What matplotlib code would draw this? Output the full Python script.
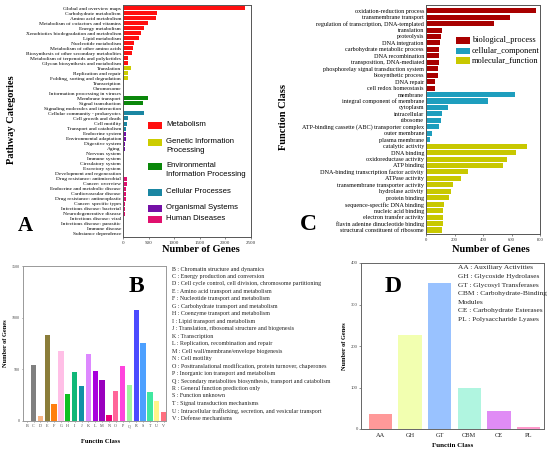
import matplotlib
matplotlib.use("Agg")
import matplotlib.pyplot as plt
from matplotlib.patches import Rectangle

SERIF = "Liberation Serif"
SANS = "Liberation Sans"
plt.rcParams["font.family"] = SERIF

# ---------------- Panel A data (KEGG) ----------------
a_categories = [
    "Global and overview maps", "Carbohydrate metabolism", "Amino acid metabolism",
    "Metabolism of cofactors and vitamins", "Energy metabolism",
    "Xenobiotics biodegradation and metabolism", "Lipid metabolism", "Nucleotide metabolism",
    "Metabolism of other amino acids", "Biosynthesis of other secondary metabolites",
    "Metabolism of terpenoids and polyketides", "Glycan biosynthesis and metabolism",
    "Translation", "Replication and repair", "Folding, sorting and degradation",
    "Transcription", "Chromosome", "Information processing in viruses",
    "Membrane transport", "Signal transduction", "Signaling molecules and interaction",
    "Cellular community - prokaryotes", "Cell growth and death", "Cell motility",
    "Transport and catabolism",
    "Endocrine system", "Environmental adaptation", "Digestive system", "Aging",
    "Nervous system", "Immune system", "Circulatory system", "Excretory system",
    "Development and regeneration",
    "Drug resistance: antimicrobial", "Cancer: overview", "Endocrine and metabolic disease",
    "Cardiovascular disease", "Drug resistance: antineoplastic", "Cancer: specific types",
    "Infectious disease: bacterial", "Neurodegenerative disease", "Infectious disease: viral",
    "Infectious disease: parasitic", "Immune disease", "Substance dependence",
]
a_values = [
    2388, 671, 651, 487, 401, 355, 303, 210, 197, 184, 105, 92,
    158, 105, 99, 5, 0, 0,
    487, 382, 2,
    408, 92, 86, 53,
    68, 50, 48, 42, 8, 0, 0, 0, 0,
    86, 72, 66, 66, 53, 46, 46, 33, 0, 0, 0, 0,
]
a_group_names = ["Metabolism", "Genetic Information\nProcessing",
                 "Environmental\nInformation Processing", "Cellular Processes",
                 "Organismal Systems", "Human Diseases"]
a_group_sizes = [12, 6, 3, 4, 9, 12]
a_group_colors = ["#FF1010", "#CCCC00", "#0A870A", "#1A86A2", "#7410A6", "#E0106E"]

# ---------------- Panel B data (COG) ----------------
b_letters = list("BCDEFGHIJKLMNOPQRSTUV")
b_values = [0, 546, 48, 829, 160, 673, 265, 471, 338, 653, 482, 400, 55, 293, 530,
            349, 1079, 757, 280, 196, 86]
b_colors = ["#AAAAAA", "#808080", "#F7B483", "#8B7D3A", "#FF7F10", "#FFBFE6", "#10C020",
            "#10B878", "#1090A6", "#DD88FF", "#A800DD", "#9A00BE", "#EE0077", "#FF6699",
            "#FF44DD", "#A0F5A0", "#4B4BFF", "#4DA0FF", "#40E8A0", "#FFF58A", "#FF7080"]
b_desc = [
    "B : Chromatin structure and dynamics",
    "C : Energy production and conversion",
    "D : Cell cycle control, cell division, chromosome partitioning",
    "E : Amino acid transport and metabolism",
    "F : Nucleotide transport and metabolism",
    "G : Carbohydrate transport and metabolism",
    "H : Coenzyme transport and metabolism",
    "I : Lipid transport and metabolism",
    "J : Translation, ribosomal structure and biogenesis",
    "K : Transcription",
    "L : Replication, recombination and repair",
    "M : Cell wall/membrane/envelope biogenesis",
    "N : Cell motility",
    "O : Posttranslational modification, protein turnover, chaperones",
    "P : Inorganic ion transport and metabolism",
    "Q : Secondary metabolites biosynthesis, transport and catabolism",
    "R : General function prediction only",
    "S : Function unknown",
    "T : Signal transduction mechanisms",
    "U : Intracellular trafficking, secretion, and vesicular transport",
    "V : Defense mechanisms",
]

# ---------------- Panel C data (GO) ----------------
c_bp = ["oxidation-reduction process", "transmembrane transport",
        "regulation of transcription, DNA-templated", "translation", "proteolysis",
        "DNA integration", "carbohydrate metabolic process", "DNA recombination",
        "transposition, DNA-mediated", "phosphorelay signal transduction system",
        "biosynthetic process", "DNA repair", "cell redox homeostasis"]
c_bp_values = [769, 588, 478, 115, 108, 101, 94, 94, 89, 87, 82, 66, 66]
c_cc = ["membrane", "integral component of membrane", "cytoplasm", "intracellular",
        "ribosome", "ATP-binding cassette (ABC) transporter complex", "outer membrane",
        "plasma membrane"]
c_cc_values = [628, 433, 151, 115, 104, 94, 42, 26]
c_mf = ["catalytic activity", "DNA binding", "oxidoreductase activity", "ATP binding",
        "DNA-binding transcription factor activity", "ATPase activity",
        "transmembrane transporter activity", "hydrolase activity", "protein binding",
        "sequence-specific DNA binding", "nucleic acid binding", "electron transfer activity",
        "flavin adenine dinucleotide binding", "structural constituent of ribosome"]
c_mf_values = [711, 633, 565, 541, 294, 249, 188, 176, 158, 125, 122, 120, 120, 113]
c_group_names = ["biological_process", "cellular_component", "molecular_function"]
c_group_colors = ["#A80000", "#1E9EBE", "#C8C800"]

# ---------------- Panel D data (CAZy) ----------------
d_classes = ["AA", "GH", "GT", "CBM", "CE", "PL"]
d_values = [35, 227, 353, 98, 43, 6]
d_colors = ["#FF9999", "#F2FFB0", "#99C2FF", "#B0F5E0", "#E08CF5", "#FF99CC"]
d_desc_lines = ["AA : Auxiliary Activities", "GH : Glycoside Hydrolases",
                "GT : Glycosyl Transferases", "CBM : Carbohydrate-Binding",
                "Modules", "CE : Carbohydrate Esterases", "PL : Polysaccharide Lyases"]

# ---------------- figure ----------------
W, H = 550, 454
fig = plt.figure(figsize=(W / 100, H / 100), dpi=100)


def ax_px(l, t, r, b):
    return fig.add_axes([l / W, 1 - b / H, (r - l) / W, (b - t) / H])


def ftext(x, y, s, **kw):
    return fig.text(x / W, 1 - y / H, s, **kw)


def frect(x0, y0, x1, y1, color):
    fig.add_artist(Rectangle((x0 / W, 1 - y1 / H), (x1 - x0) / W, (y1 - y0) / H,
                             transform=fig.transFigure, color=color, lw=0))


def style_spines(ax, color):
    for s in ax.spines.values():
        s.set_color(color)
        s.set_linewidth(0.7)


# ===== Panel A =====
axA = ax_px(123, 5, 251, 237)
a_colors = []
for n, c in zip(a_group_sizes, a_group_colors):
    a_colors += [c] * n
axA.barh(range(len(a_categories)), a_values, height=0.8, color=a_colors)
axA.set_ylim(len(a_categories) - 0.4, -0.6)
axA.set_xlim(0, 2500)
axA.set_xticks([0, 500, 1000, 1500, 2000, 2500])
axA.set_yticks(range(len(a_categories)))
axA.set_yticklabels(a_categories, fontsize=3.9)
axA.tick_params(axis="y", length=0, pad=1.5)
axA.tick_params(axis="x", labelsize=3.6, length=1.2, width=0.4, pad=1.5, colors="#333333")
style_spines(axA, "#555555")
ftext(201, 249, "Number of Genes", fontsize=7.5, fontweight="bold", ha="center", va="center")
ftext(12, 120, "Pathway Categories", fontsize=7.5, fontweight="bold", ha="center",
      va="center", rotation=90)
ftext(25, 226, "A", fontsize=15, fontweight="bold", ha="center", va="center")
leg_patch_y = [125.8, 142.6, 166.6, 192.6, 208.2, 219.6]
for name, c, yc in zip(a_group_names, a_group_colors, leg_patch_y):
    frect(148, yc - 3.5, 162, yc + 3.5, c)
    ftext(166, yc - 4.3, name, fontsize=5.6, family=SANS, ha="left", va="top",
          linespacing=1.35)

# ===== Panel C =====
axC = ax_px(426, 5, 540, 234)
c_labels = c_bp + c_cc + c_mf
c_vals = c_bp_values + c_cc_values + c_mf_values
c_cols = ([c_group_colors[0]] * len(c_bp) + [c_group_colors[1]] * len(c_cc)
          + [c_group_colors[2]] * len(c_mf))
axC.barh(range(len(c_labels)), c_vals, height=0.78, color=c_cols)
axC.set_ylim(len(c_labels) - 0.38, -0.88)
axC.set_xlim(0, 800)
axC.set_xticks([0, 200, 400, 600, 800])
axC.set_yticks(range(len(c_labels)))
axC.set_yticklabels(c_labels, fontsize=4.4)
axC.tick_params(axis="y", length=0, pad=1.5)
axC.tick_params(axis="x", labelsize=3.4, length=1.2, width=0.4, pad=1.5, colors="#333333")
style_spines(axC, "#555555")
ftext(491, 249, "Number of Genes", fontsize=7.5, fontweight="bold", ha="center", va="center")
ftext(284, 117, "Function Class", fontsize=7.5, fontweight="bold", ha="center",
      va="center", rotation=90)
ftext(308, 224, "C", fontsize=17, fontweight="bold", ha="center", va="center")
for name, c, yc in zip(c_group_names, c_group_colors, [40.3, 51.0, 60.6]):
    frect(456, yc - 3.2, 470, yc + 3.2, c)
    ftext(472, yc, name, fontsize=6.0, ha="left", va="center")

# ===== Panel B =====
axB = ax_px(23, 266, 166, 421)
axB.bar(range(len(b_letters)), b_values, width=0.78, color=b_colors)
axB.set_xlim(-0.55, len(b_letters) - 0.65)
axB.set_ylim(0, 1500)
axB.set_yticks([0, 500, 1000, 1500])
axB.set_xticks(range(len(b_letters)))
axB.set_xticklabels(b_letters, fontsize=3.0)
axB.tick_params(axis="both", labelsize=3.0, length=1.0, width=0.4, pad=1.2, colors="#444444")
style_spines(axB, "#999999")
axB.set_ylabel("Number of Genes", fontsize=4.6, fontweight="bold", labelpad=2.5)
ftext(101, 441.7, "Functin Class", fontsize=4.8, fontweight="bold", ha="center", va="center")
ftext(136, 286, "B", fontsize=17, fontweight="bold", ha="center", va="center")
for i, s in enumerate(b_desc):
    ftext(172, 269 + i * 7.47, s, fontsize=4.3, ha="left", va="center", color="#222222")

# ===== Panel D =====
axD = ax_px(361, 263, 544, 429)
axD.bar(range(len(d_classes)), d_values, width=0.79, color=d_colors)
axD.set_xlim(-0.65, len(d_classes) - 0.48)
axD.set_ylim(0, 400)
axD.set_yticks([0, 100, 200, 300, 400])
axD.set_xticks(range(len(d_classes)))
axD.set_xticklabels(d_classes, fontsize=4.6)
axD.tick_params(axis="y", labelsize=3.4, length=1.2, width=0.4, pad=1.2, colors="#444444")
axD.tick_params(axis="x", length=0, pad=3, colors="#222222")
style_spines(axD, "#666666")
axD.set_ylabel("Number of Genes", fontsize=4.6, fontweight="bold", labelpad=3)
ftext(453, 445.7, "Functin Class", fontsize=5.0, fontweight="bold", ha="center", va="center")
ftext(393, 286, "D", fontsize=17, fontweight="bold", ha="center", va="center")
for i, s in enumerate(d_desc_lines):
    ftext(458, 268 + i * 8.55, s, fontsize=5.3, ha="left", va="center", color="#222222")

fig.savefig("out.png", dpi=100)
